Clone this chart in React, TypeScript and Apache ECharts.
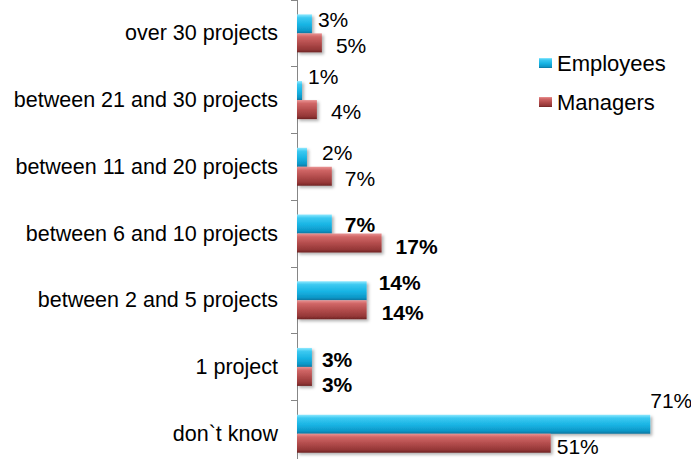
import React, { useEffect, useRef } from "react";
import * as echarts from "echarts";

const categories = [
  "over 30 projects",
  "between 21 and 30 projects",
  "between 11 and 20 projects",
  "between 6 and 10 projects",
  "between 2 and 5 projects",
  "1 project",
  "don`t know",
];
const employeesValues = [3, 1, 2, 7, 14, 3, 71];
const managersValues = [5, 4, 7, 17, 14, 3, 51];

// label styling (offsets relative to bar end / bar centre, boldness)
const employeesLabelOffsets = [[6, -4], [6, -14], [15, -5], [13, 0], [12, -8], [10, 2], [0, -24]];
const managersLabelOffsets = [[14, 3], [14, 2], [13, 2], [14, 3], [15, 3], [10, 8], [6, 3]];
const employeesBold = [false, false, false, true, true, true, false];
const managersBold = [false, false, false, true, true, true, false];

const FONT = "'Liberation Sans', Arial, sans-serif";

const cyanGrad = new echarts.graphic.LinearGradient(0, 0, 0, 1, [
  { offset: 0, color: "#8fe9ff" },
  { offset: 0.18, color: "#3cc9f1" },
  { offset: 0.55, color: "#17b3e3" },
  { offset: 0.85, color: "#0e98c8" },
  { offset: 1, color: "#0a76a0" },
]);
const redGrad = new echarts.graphic.LinearGradient(0, 0, 0, 1, [
  { offset: 0, color: "#e99393" },
  { offset: 0.18, color: "#d06666" },
  { offset: 0.55, color: "#b04a4a" },
  { offset: 0.85, color: "#943737" },
  { offset: 1, color: "#6e2424" },
]);

function buildData(values: number[], offsets: number[][], bold: boolean[]) {
  return values.map((v, i) => ({
    value: v,
    label: { offset: offsets[i], fontWeight: bold[i] ? "bold" : "normal" },
  }));
}

export default function App() {
  const ref = useRef<HTMLDivElement>(null);
  useEffect(() => {
    document.body.style.margin = "0";
    if (!ref.current) return;
    const chart = echarts.init(ref.current, null, { renderer: "svg" });
    const labelBase = {
      show: true,
      position: "right",
      distance: 0,
      formatter: "{c}%",
      color: "#000",
      fontSize: 21,
      fontFamily: FONT,
    };
    chart.setOption({
      animation: false,
      backgroundColor: "#fff",
      grid: {
        left: 297,
        top: 0,
        width: 398,
        height: 467,
        containLabel: false,
        outerBoundsMode: "none",
      },
      legend: {
        orient: "vertical",
        left: 539,
        top: 52,
        padding: 0,
        itemWidth: 13,
        itemHeight: 10,
        itemGap: 17,
        icon: "rect",
        textStyle: { fontSize: 22, fontFamily: FONT, color: "#000", lineHeight: 22 },
        data: ["Employees", "Managers"],
      },
      xAxis: {
        type: "value",
        min: 0,
        max: 80,
        show: false,
      },
      yAxis: {
        type: "category",
        data: categories,
        inverse: true,
        axisLine: { show: true, lineStyle: { color: "#868686", width: 1 } },
        axisTick: { show: true, length: 6, lineStyle: { color: "#868686" } },
        axisLabel: {
          margin: 19,
          fontSize: 21.5,
          fontFamily: FONT,
          color: "#000",
        },
        splitLine: { show: false },
      },
      series: [
        {
          name: "Employees",
          type: "bar",
          barWidth: 19,
          barGap: "0%",
          data: buildData(employeesValues, employeesLabelOffsets, employeesBold),
          itemStyle: {
            color: cyanGrad,
            shadowColor: "rgba(0,0,0,0.3)",
            shadowBlur: 3,
            shadowOffsetX: 2,
            shadowOffsetY: 2,
          },
          label: labelBase,
        },
        {
          name: "Managers",
          type: "bar",
          barWidth: 19,
          barGap: "0%",
          data: buildData(managersValues, managersLabelOffsets, managersBold),
          itemStyle: {
            color: redGrad,
            shadowColor: "rgba(0,0,0,0.3)",
            shadowBlur: 3,
            shadowOffsetX: 2,
            shadowOffsetY: 2,
          },
          label: labelBase,
        },
      ],
    });
    return () => chart.dispose();
  }, []);
  return <div ref={ref} style={{ width: 691, height: 459 }} />;
}
